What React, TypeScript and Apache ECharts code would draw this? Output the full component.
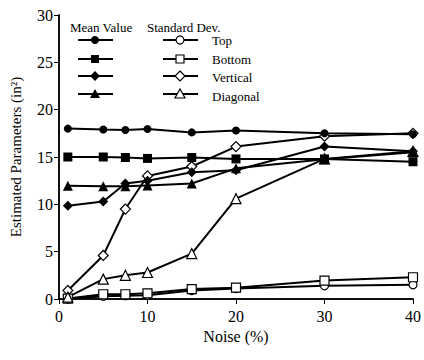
import React, { useEffect, useRef } from "react";
import * as echarts from "echarts";

const noise = [1, 5, 7.5, 10, 15, 20, 30, 40];
const meanTop = [18.0, 17.9, 17.85, 17.95, 17.6, 17.8, 17.5, 17.4];
const meanBottom = [15.0, 15.0, 14.95, 14.85, 14.95, 14.8, 14.8, 14.5];
const meanVertical = [9.85, 10.3, 12.2, 12.5, 13.4, 13.6, 16.1, 15.6];
const meanDiagonal = [11.95, 11.9, 11.9, 12.0, 12.2, 13.8, 14.75, 15.5];
const sdTop = [0.0, 0.3, 0.35, 0.4, 0.9, 1.1, 1.4, 1.5];
const sdBottom = [0.05, 0.5, 0.5, 0.6, 1.05, 1.2, 1.95, 2.3];
const sdVertical = [0.9, 4.6, 9.5, 13.0, 14.0, 16.1, 17.2, 17.5];
const sdDiagonal = [0.2, 2.1, 2.5, 2.8, 4.8, 10.6, 14.8, 15.6];
const xTicks = [0, 10, 20, 30, 40];
const yTicks = [0, 5, 10, 15, 20, 25, 30];
const legendNames = ["Top", "Bottom", "Vertical", "Diagonal"];

const FONT = "serif";

export default function App() {
  const ref = useRef<HTMLDivElement>(null);
  useEffect(() => {
    document.body.style.margin = "0";
    if (!ref.current) return;
    const chart = echarts.init(ref.current, undefined, { renderer: "svg" });
    const pair = (ys: number[]) => noise.map((x, i) => [x, ys[i]]);
    const mk = (name: string, ys: number[], symbol: string, filled: boolean, size: number) => ({
      name,
      type: "line",
      data: pair(ys),
      symbol,
      symbolSize: size,
      showAllSymbol: true,
      lineStyle: { color: "#000", width: 2 },
      itemStyle: filled
        ? { color: "#000", borderColor: "#000", borderWidth: 0 }
        : { color: "#fff", borderColor: "#000", borderWidth: 1.2 },
      z: filled ? 3 : 2,
    });
    const axisCommon = {
      type: "value",
      axisLine: { show: true, lineStyle: { color: "#000", width: 1.5 } },
      splitLine: { show: false },
    };
    const rows = [40, 59, 76, 94];
    const labelY = [42, 61, 79, 98];
    const graphic: any[] = [
      { type: "text", left: 70, top: 21, style: { text: "Mean Value", fontFamily: FONT, fontSize: 13, fill: "#000" } },
      { type: "text", left: 147, top: 21, style: { text: "Standard Dev.", fontFamily: FONT, fontSize: 13, fill: "#000" } },
    ];
    const shape = (kind: number, cx: number, cy: number, filled: boolean) => {
      const style = filled
        ? { fill: "#000", stroke: "#000", lineWidth: 0 }
        : { fill: "#fff", stroke: "#000", lineWidth: 1.2 };
      if (kind === 0) return { type: "circle", shape: { cx, cy, r: 4 }, style };
      if (kind === 1) return { type: "rect", shape: { x: cx - 4, y: cy - 4, width: 8, height: 8 }, style };
      if (kind === 2)
        return { type: "polygon", shape: { points: [[cx, cy - 5], [cx + 5, cy], [cx, cy + 5], [cx - 5, cy]] }, style };
      return { type: "polygon", shape: { points: [[cx, cy - 5], [cx + 5, cy + 4], [cx - 5, cy + 4]] }, style };
    };
    rows.forEach((y, i) => {
      graphic.push({ type: "line", shape: { x1: 78, y1: y, x2: 113, y2: y }, style: { stroke: "#000", lineWidth: 2 } });
      graphic.push(shape(i, 95, y, true));
      graphic.push({ type: "line", shape: { x1: 163, y1: y, x2: 198, y2: y }, style: { stroke: "#000", lineWidth: 2 } });
      graphic.push(shape(i, 180, y, false));
      graphic.push({
        type: "text",
        left: 212,
        top: labelY[i] - 8,
        style: { text: legendNames[i], fontFamily: FONT, fontSize: 13, fill: "#000" },
      });
    });
    chart.setOption({
      animation: false,
      backgroundColor: "#fff",
      textStyle: { fontFamily: FONT },
      grid: { left: 58, right: 6, top: 15, bottom: 61 },
      xAxis: [
        {
          ...axisCommon,
          min: xTicks[0],
          max: xTicks[xTicks.length - 1],
          interval: 10,
          position: "bottom",
          name: "Noise (%)",
          nameLocation: "middle",
          nameGap: 26,
          nameTextStyle: { fontFamily: FONT, fontSize: 16, color: "#000" },
          axisTick: { show: true, inside: false, length: 4, lineStyle: { color: "#000" } },
          axisLabel: { fontFamily: FONT, fontSize: 16, color: "#000", margin: 9 },
        },
        {
          ...axisCommon,
          min: xTicks[0],
          max: xTicks[xTicks.length - 1],
          interval: 10,
          position: "top",
          axisTick: { show: true, inside: true, length: 5, lineStyle: { color: "#000" } },
          axisLabel: { show: false },
        },
      ],
      yAxis: [
        {
          ...axisCommon,
          min: yTicks[0],
          max: yTicks[yTicks.length - 1],
          interval: 5,
          position: "left",
          name: "Estimated Parameters (in²)",
          nameLocation: "middle",
          nameGap: 36,
          nameTextStyle: { fontFamily: FONT, fontSize: 15, color: "#000" },
          axisTick: { show: true, inside: false, length: 4, lineStyle: { color: "#000" } },
          axisLabel: { fontFamily: FONT, fontSize: 16, color: "#000", margin: 6 },
        },
        {
          ...axisCommon,
          min: yTicks[0],
          max: yTicks[yTicks.length - 1],
          interval: 5,
          position: "right",
          axisTick: { show: true, inside: true, length: 5, lineStyle: { color: "#000" } },
          axisLabel: { show: false },
        },
      ],
      graphic,
      series: [
        mk("Top mean", meanTop, "circle", true, 8),
        mk("Bottom mean", meanBottom, "rect", true, 9),
        mk("Vertical mean", meanVertical, "diamond", true, 10),
        mk("Diagonal mean", meanDiagonal, "triangle", true, 10),
        mk("Top sd", sdTop, "circle", false, 8),
        mk("Bottom sd", sdBottom, "rect", false, 9),
        mk("Vertical sd", sdVertical, "diamond", false, 10),
        mk("Diagonal sd", sdDiagonal, "triangle", false, 10),
      ],
    });
    return () => chart.dispose();
  }, []);
  return (
    <div style={{ position: "relative", width: 424, height: 360 }}>
      <div ref={ref} style={{ width: 424, height: 360 }} />
    </div>
  );
}
